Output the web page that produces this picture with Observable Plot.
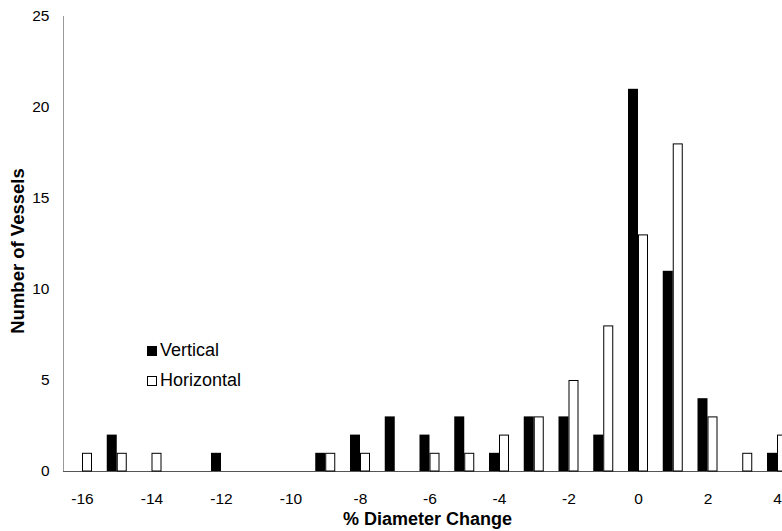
<!DOCTYPE html>
<html>
<head>
<meta charset="utf-8">
<script src="https://cdn.jsdelivr.net/npm/d3@7"></script>
<script src="https://cdn.jsdelivr.net/npm/@observablehq/plot@0.6"></script>
<style>
  html, body { margin: 0; padding: 0; background: white; overflow: hidden; }
  #wrap { position: relative; width: 782px; height: 531px; font-family: "Liberation Sans", Arial, sans-serif; }
  #legend { position: absolute; left: 147px; top: 335px; font-size: 18px; line-height: 30px; color: #000; }
  #legend .sw { display: inline-block; width: 10px; height: 10px; box-sizing: border-box; margin-right: 3px; }
</style>
</head>
<body>
<div id="wrap">
  <div id="chart"></div>
  <div id="legend"></div>
</div>
<script>
// % diameter change categories
const categories = [-16, -15, -14, -13, -12, -11, -10, -9, -8, -7, -6, -5, -4, -3, -2, -1, 0, 1, 2, 3, 4];
// Number of vessels, vertical diameter
const vertical   = [0, 2, 0, 0, 1, 0, 0, 1, 2, 3, 2, 3, 1, 3, 3, 2, 21, 11, 4, 0, 1];
// Number of vessels, horizontal diameter
const horizontal = [1, 1, 1, 0, 0, 0, 0, 1, 1, 0, 1, 1, 2, 3, 5, 8, 13, 18, 3, 1, 2];
// Tick labels
const xTickLabels = [-16, -14, -12, -10, -8, -6, -4, -2, 0, 2, 4];
const yTickLabels = [0, 5, 10, 15, 20, 25];
const seriesNames = ["Vertical", "Horizontal"];

const rows = categories.map((c, i) => ({c, v: vertical[i], h: horizontal[i]}));

const chart = Plot.plot({
  width: 782,
  height: 531,
  marginLeft: 63,
  marginRight: 0,
  marginTop: 16,
  marginBottom: 60,
  style: {fontFamily: "'Liberation Sans', Arial, sans-serif", fontSize: "15px", background: "white", color: "black"},
  x: {type: "band", domain: categories, range: [63.1, 795.9], paddingInner: 0.7122, paddingOuter: 0.4, align: 0.5, round: false},
  y: {domain: [0, 25]},
  marks: [
    Plot.frame({anchor: "left", stroke: "#999"}),
    Plot.ruleY([0], {stroke: "#555"}),
    Plot.barY(rows.filter(d => d.v > 0), {x: "c", y: "v", fill: "black", dx: -5}),
    Plot.barY(rows.filter(d => d.h > 0), {x: "c", y: "h", fill: "white", stroke: "black", strokeWidth: 1, dx: 5, insetLeft: 0.5, insetRight: 0.5, insetTop: 0.5}),
    Plot.axisX(xTickLabels, {tickSize: 0, tickPadding: 21, fontSize: 15.5, label: null, tickFormat: d => String(d)}),
    Plot.axisY(yTickLabels, {tickSize: 0, tickPadding: 14, fontSize: 15.5, label: null}),
    Plot.text(["% Diameter Change"], {text: d => d, frameAnchor: "bottom", dy: 48, dx: 4.5, fontWeight: "bold", fontSize: 18, textAnchor: "middle", lineAnchor: "middle"}),
    Plot.text(["Number of Vessels"], {text: d => d, frameAnchor: "left", rotate: -90, dx: -45, dy: 7, fontWeight: "bold", fontSize: 18.5, textAnchor: "middle", lineAnchor: "middle"})
  ]
});
document.getElementById("chart").appendChild(chart);

const legend = document.getElementById("legend");
seriesNames.forEach((name, i) => {
  const row = document.createElement("div");
  const sw = document.createElement("span");
  sw.className = "sw";
  sw.style.background = i === 0 ? "black" : "white";
  sw.style.border = "1px solid black";
  row.appendChild(sw);
  row.appendChild(document.createTextNode(name));
  legend.appendChild(row);
});
</script>
</body>
</html>
